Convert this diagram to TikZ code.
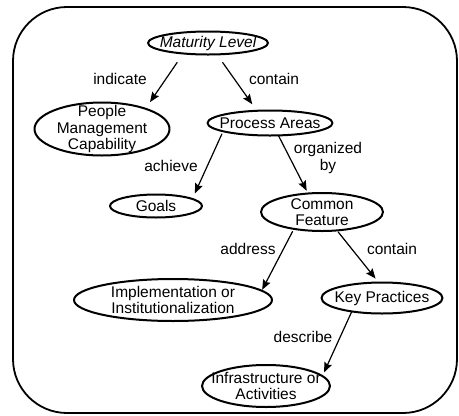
\documentclass[tikz,border=0pt]{standalone}
\usepackage{fontspec}
\setmainfont{Liberation Sans}
\usetikzlibrary{shapes.geometric,arrows.meta}
\begin{document}
\begin{tikzpicture}[x=1pt,y=-1pt,font=\fontsize{15.5}{16.5}\selectfont,line join=round,line cap=round,>={Stealth[length=10pt,width=8pt,inset=1.5pt]}]
	\tikzset{ell/.style={draw,ellipse,line width=2pt,inner sep=-40pt,outer sep=0pt,align=center},
		rel/.style={->,line width=1.2pt},
		lbl/.style={inner sep=0pt,align=center}}
	\useasboundingbox (0,0) rectangle (459,416);
	\draw[line width=1.8pt,rounded corners=54pt] (13,7) rectangle (457,413);
	\node[ell,minimum width=120pt,minimum height=23pt] (ml) at (208,43) {\itshape Maturity Level};
	\node[ell,minimum width=135pt,minimum height=53pt] (pmc) at (102,129) {People\\Management\\Capability};
	\node[ell,minimum width=125pt,minimum height=25pt] (pa) at (270,123) {Process Areas};
	\node[ell,minimum width=92pt,minimum height=23pt] (goals) at (156,206) {Goals};
	\node[ell,minimum width=122pt,minimum height=38pt] (cf) at (322,212) {Common\\Feature};
	\node[ell,minimum width=198pt,minimum height=42pt] (impl) at (173,300) {Implementation or\\Institutionalization};
	\node[ell,minimum width=121pt,minimum height=31pt] (kp) at (382,298) {Key Practices};
	\node[ell,minimum width=128pt,minimum height=42pt] (infra) at (266,386) {Infrastructure or\\Activities};
	\draw[rel,shorten <=11pt,shorten >=8pt] (ml.203) -- (pmc.25);
	\draw[rel,shorten <=10pt,shorten >=8pt] (ml.308) -- (pa.137);
	\draw[rel,shorten <=3pt,shorten >=6pt] (pa.190) -- (goals.11);
	\draw[rel,shorten >=3pt] (pa.304) -- (cf.127);
	\draw[rel,shorten <=3pt,shorten >=1pt] (cf.211) -- (impl.6);
	\draw[rel,shorten <=2pt,shorten >=5pt] (cf.309) -- (kp.102);
	\draw[rel,shorten >=4pt] (kp.204) -- (infra.10);
	\node[lbl] (indicate) at (120,79) {indicate};
	\node[lbl] (contain1) at (274,79) {contain};
	\node[lbl] (achieve) at (171,166) {achieve};
	\node[lbl] (organized) at (328,158) {organized\\by};
	\node[lbl] (address) at (248,249) {address};
	\node[lbl] (contain2) at (392,249) {contain};
	\node[lbl] (describe) at (303,337) {describe};
\end{tikzpicture}
\end{document}
